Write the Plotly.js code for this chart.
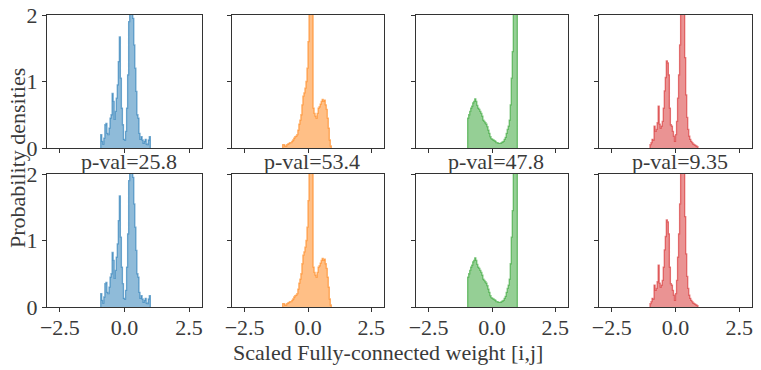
<!DOCTYPE html>
<html>
<head>
<meta charset="utf-8">
<script src="https://cdn.plot.ly/plotly-3.0.1.min.js"></script>
<style>
  html, body { margin: 0; padding: 0; background: #fff; }
  #plot { width: 761px; height: 370px; }
</style>
</head>
<body>
<div id="plot"></div>
<script>
// histogram densities, 50 bins of width 0.04 from -1 to 1
const binStart = -1;
const binWidth = 0.04;

const blueDens = [0, 0, 0.2, 0.1, 0.06, 0.15, 0.35, 0.37, 0.22, 0.2,
    0.3, 0.45, 0.5, 0.82, 0.7, 0.43, 0.55, 0.75, 0.95, 1.3,
    1.67, 1.05, 0.6, 0.35, 0.13, 0.12, 0.25, 0.6, 1.1, 1.9,
    2.6, 3.0, 2.4, 1.95, 1.55, 1.2, 0.85, 0.5, 0.45, 0.22,
    0.13, 0.17, 0.12, 0.07, 0.1, 0.13, 0.06, 0.05, 0.12, 0.17];

const orangeDens = [0.05, 0.05, 0.03, 0.03, 0.05, 0.06, 0.07, 0.08, 0.08, 0.1,
    0.12, 0.15, 0.17, 0.18, 0.2, 0.27, 0.36, 0.42, 0.5, 0.65,
    0.78, 0.83, 0.9, 1.0, 1.2, 1.6, 2.4, 3.2, 2.8, 2.2,
    0.6, 0.52, 0.48, 0.45, 0.52, 0.6, 0.62, 0.66, 0.7, 0.73,
    0.7, 0.72, 0.65, 0.58, 0.45, 0.3, 0.12, 0.03, 0, 0];

const greenDens = [0, 0.45, 0.5, 0.55, 0.6, 0.63, 0.68, 0.7, 0.74, 0.7,
    0.64, 0.6, 0.58, 0.55, 0.52, 0.48, 0.42, 0.4, 0.38, 0.36,
    0.32, 0.27, 0.22, 0.17, 0.14, 0.13, 0.12, 0.11, 0.1, 0.08,
    0.08, 0.07, 0.07, 0.07, 0.08, 0.09, 0.1, 0.13, 0.16, 0.22,
    0.28, 0.33, 0.42, 0.65, 1.05, 1.45, 2.3, 3.2, 3.5, 2.8];

const redDens = [0.05, 0.08, 0.13, 0.12, 0.33, 0.25, 0.28, 0.38, 0.63, 0.36,
    0.3, 0.33, 0.4, 0.6, 0.86, 1.06, 1.31, 1.28, 1.1, 0.6,
    0.35, 0.33, 0.25, 0.18, 0.1, 0.2, 0.4, 0.75, 1.1, 1.55,
    2.3, 3.0, 2.9, 2.2, 1.36, 0.8, 0.46, 0.28, 0.18, 0.13,
    0.1, 0.08, 0.06, 0.05, 0.04, 0.03, 0.02, 0, 0, 0];

const seriesDens = [blueDens, orangeDens, greenDens, redDens];
const seriesColors = ['31,119,180', '255,127,14', '44,160,44', '214,39,40'];
const pvalLabels = ['p-val=25.8', 'p-val=53.4', 'p-val=47.8', 'p-val=9.35'];
const xTickVals = [-2.5, 0, 2.5];
const xTickText = ['\u22122.5', '0.0', '2.5'];
const yTickVals = [0, 1, 2];
const yTickText = ['0', '1', '2'];

const W = 761, H = 370;
const colPx = [[47, 202], [232, 384], [416, 568], [599, 752]];
const rowPx = [[15, 148], [174, 307]];
const FONT = 'Liberation Serif';
const FS = 22;
const TXT = '#3a3a3a';

// turn densities into a closed step outline
function stepPoints(dens) {
    let lo = 0, hi = dens.length - 1;
    while (lo < hi && dens[lo] === 0) lo++;
    while (hi > lo && dens[hi] === 0) hi--;
    const x = [binStart + lo * binWidth], y = [0];
    for (let i = lo; i <= hi; i++) {
        x.push(binStart + i * binWidth);
        y.push(dens[i]);
    }
    x.push(binStart + (hi + 1) * binWidth); y.push(dens[hi]);
    x.push(binStart + (hi + 1) * binWidth); y.push(0);
    return { x, y };
}

const traces = [];
const layout = {
    width: W, height: H,
    margin: { l: 0, r: 0, t: 0, b: 0 },
    paper_bgcolor: '#fff', plot_bgcolor: '#fff',
    showlegend: false,
    font: { family: FONT, size: FS, color: TXT },
    annotations: []
};

for (let r = 0; r < 2; r++) {
    for (let c = 0; c < 4; c++) {
        const k = r * 4 + c + 1;
        const sfx = k === 1 ? '' : String(k);
        const pts = stepPoints(seriesDens[c]);
        traces.push({
            x: pts.x, y: pts.y,
            type: 'scatter', mode: 'lines',
            line: { shape: 'hv', color: 'rgba(' + seriesColors[c] + ',0.6)', width: 1.3 },
            fill: 'tozeroy',
            fillcolor: 'rgba(' + seriesColors[c] + ',0.5)',
            xaxis: 'x' + sfx, yaxis: 'y' + sfx,
            hoverinfo: 'skip'
        });
        const common = {
            showline: true, mirror: true, linecolor: '#333', linewidth: 1,
            ticks: 'outside', ticklen: 4, tickwidth: 1, tickcolor: '#333',
            showgrid: false, zeroline: false, fixedrange: true,
            tickfont: { family: FONT, size: FS, color: TXT }
        };
        layout['xaxis' + sfx] = Object.assign({}, common, {
            domain: [colPx[c][0] / W, colPx[c][1] / W],
            range: [-3, 3],
            anchor: 'y' + sfx,
            tickmode: 'array', tickvals: xTickVals,
            ticktext: r === 1 ? xTickText : ['', '', ''],
            showticklabels: r === 1,
            ticklabelstandoff: -3
        });
        layout['yaxis' + sfx] = Object.assign({}, common, {
            domain: [1 - rowPx[r][1] / H, 1 - rowPx[r][0] / H],
            range: [0, 2],
            anchor: 'x' + sfx,
            tickmode: 'array', tickvals: yTickVals,
            ticktext: yTickText,
            showticklabels: c === 0
        });
    }
}

// p-val titles above the bottom row
for (let c = 0; c < 4; c++) {
    layout.annotations.push({
        text: pvalLabels[c], xref: 'paper', yref: 'paper',
        x: ((colPx[c][0] + colPx[c][1]) / 2 + 4) / W, y: 1 - 161 / H,
        xanchor: 'center', yanchor: 'middle', showarrow: false,
        font: { family: FONT, size: FS, color: TXT }
    });
}
layout.annotations.push({
    text: 'Scaled Fully-connected weight [i,j]', xref: 'paper', yref: 'paper',
    x: 388 / W, y: 1 - 352 / H, xanchor: 'center', yanchor: 'middle',
    showarrow: false, font: { family: FONT, size: FS, color: TXT }
});
layout.annotations.push({
    text: 'Probability densities', xref: 'paper', yref: 'paper',
    x: 17 / W, y: 1 - 158 / H, xanchor: 'center', yanchor: 'middle',
    textangle: -90, showarrow: false, font: { family: FONT, size: FS, color: TXT }
});

Plotly.newPlot('plot', traces, layout, { displayModeBar: false, staticPlot: true });
</script>
</body>
</html>
